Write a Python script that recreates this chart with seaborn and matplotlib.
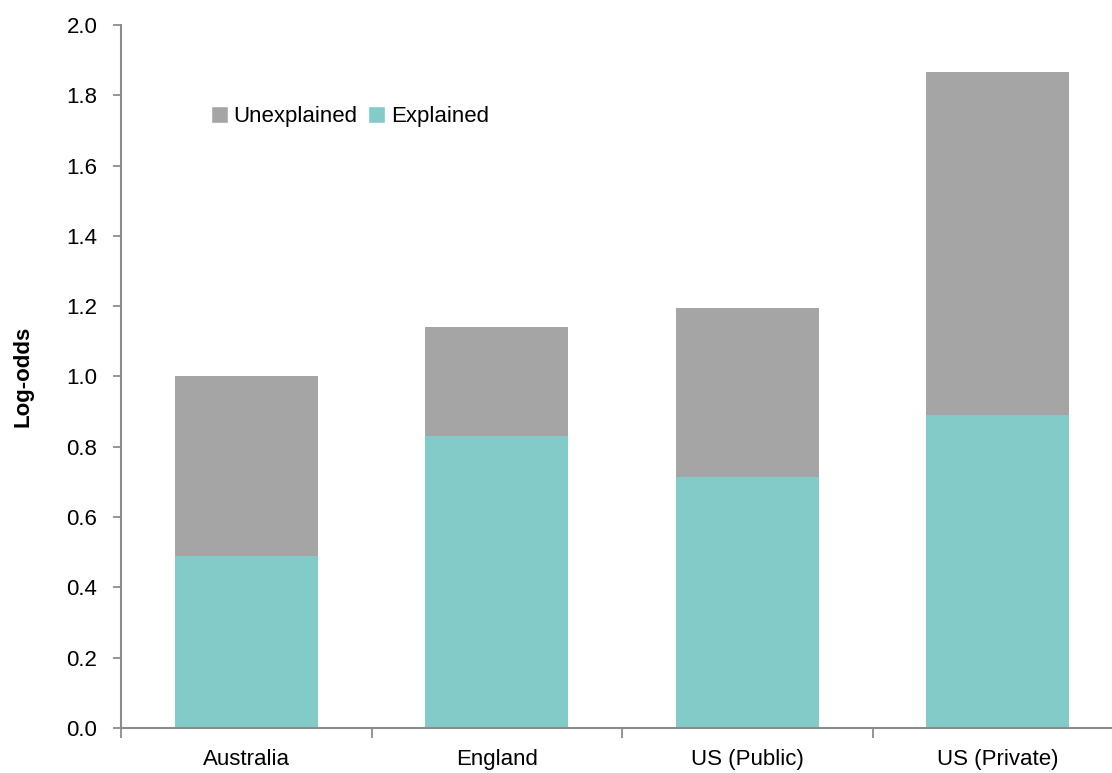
import matplotlib
matplotlib.use("Agg")
import matplotlib.pyplot as plt
import seaborn as sns
import pandas as pd
from matplotlib.patches import Patch

# Log-odds decomposition by system
categories = ["Australia", "England", "US (Public)", "US (Private)"]
explained = [0.49, 0.83, 0.715, 0.89]
total = [1.0, 1.14, 1.195, 1.865]
y_ticks = [0.0, 0.2, 0.4, 0.6, 0.8, 1.0, 1.2, 1.4, 1.6, 1.8, 2.0]

sns.set_theme(style="white")
plt.rcParams["font.family"] = ["Liberation Sans", "DejaVu Sans"]
plt.rcParams["text.color"] = "black"
plt.rcParams["axes.labelcolor"] = "black"

GREY = "#A5A5A5"
TEAL = "#82CBC9"
AXIS = "#8C8C8C"

df = pd.DataFrame({"category": categories, "explained": explained, "total": total})

fig = plt.figure(figsize=(11.12, 7.73), dpi=100)
ax = fig.add_axes([0.1088, 0.0582, 0.9012, 0.9095])

sns.barplot(data=df, x="category", y="total", color=GREY, width=0.57,
            saturation=1, ax=ax, linewidth=0)
sns.barplot(data=df, x="category", y="explained", color=TEAL, width=0.57,
            saturation=1, ax=ax, linewidth=0)

ax.set_xlim(-0.5, 3.5)
ax.set_ylim(0, 2.0)
ax.set_yticks(y_ticks)
ax.set_yticklabels([f"{v:.1f}" for v in y_ticks])
ax.set_xlabel("")
ax.set_ylabel("Log-odds", fontsize=16, fontweight="bold", labelpad=24, color="black")

# category boundaries carry the tick marks, labels sit at the centres
ax.set_xticks([i + 0.5 for i in range(-1, 4)], minor=True)
ax.tick_params(axis="x", which="minor", bottom=True, length=7, width=1.3,
               color=AXIS, direction="out")
ax.tick_params(axis="x", which="major", bottom=True, length=0, pad=15, labelsize=16)
ax.tick_params(axis="y", which="major", left=True, length=6, width=1.3, color=AXIS,
               direction="out", pad=11, labelsize=16)
ax.tick_params(axis="both", labelcolor="black")

for side in ["top", "right"]:
    ax.spines[side].set_visible(False)
for side in ["left", "bottom"]:
    ax.spines[side].set_color(AXIS)
    ax.spines[side].set_linewidth(1.5)

handles = [Patch(facecolor=GREY, label="Unexplained"), Patch(facecolor=TEAL, label="Explained")]
ax.legend(handles=handles, ncol=2, frameon=False, loc="upper left",
          bbox_to_anchor=(0.07, 0.913), fontsize=16, handlelength=0.75,
          handleheight=0.75, handletextpad=0.25, columnspacing=0.5,
          labelcolor="black")

fig.savefig("out.png", dpi=100)
